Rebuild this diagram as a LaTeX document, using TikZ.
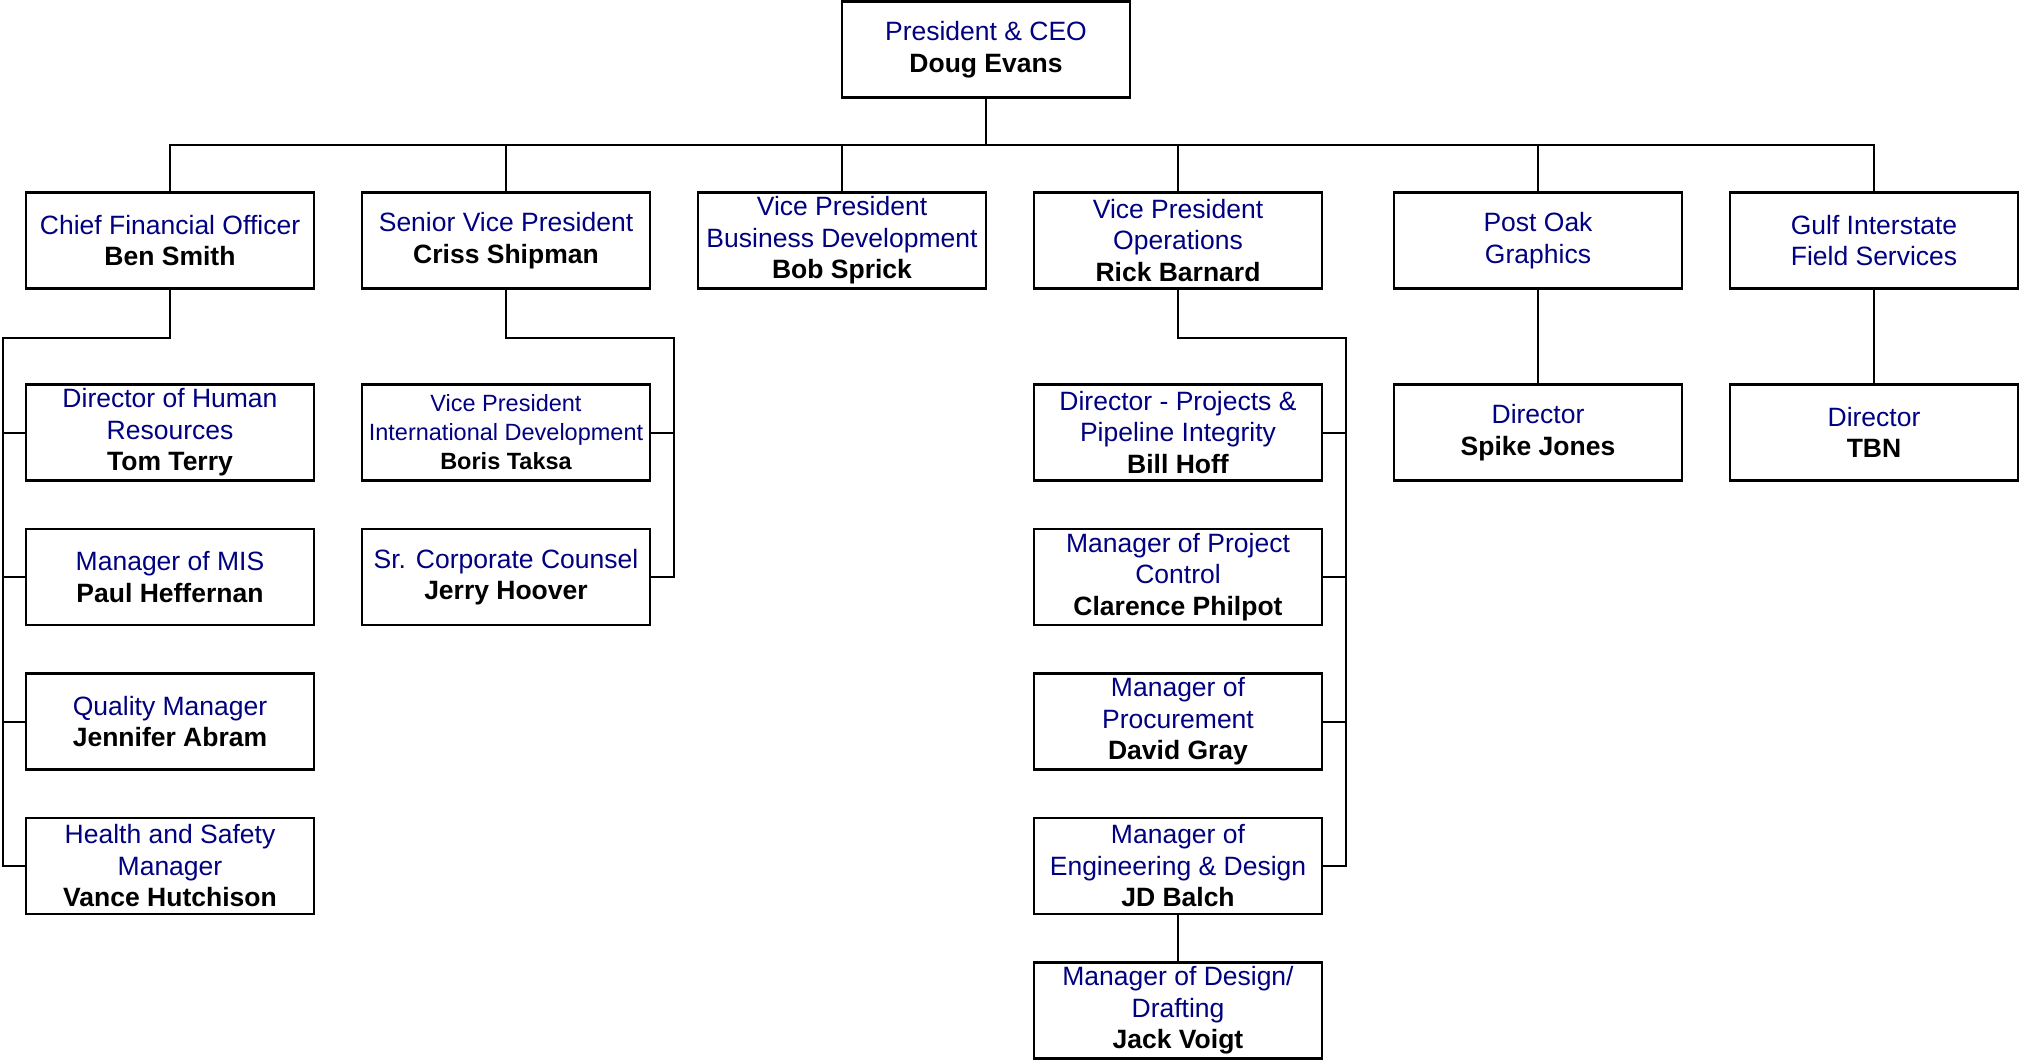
\documentclass[tikz,border=0pt]{standalone}
\usepackage{fontspec}
\setmainfont{Liberation Sans}
\definecolor{ttl}{HTML}{000080}
\newcommand\pname[1]{{\color{black}\bfseries #1}}
\begin{document}
\begin{tikzpicture}[x=1pt,y=-1pt,
  box/.style={draw, line width=2.4pt, minimum width=288pt, minimum height=96pt,
    inner sep=0pt, align=center, text=ttl,
    font=\fontsize{26.5}{31.5}\selectfont},
  smallbox/.style={box, font=\fontsize{23.5}{29}\selectfont},
  conn/.style={draw, line width=2pt, line cap=rect}]
\useasboundingbox (0,0) rectangle (2019,1060);
% top
\node[box] (ceo) at (986,49.5) {President \& CEO\\\pname{Doug Evans}};
% level 2
\node[box] (cfo) at (170,240.5) {Chief Financial Officer\\\pname{Ben Smith}};
\node[box] (svp) at (506,240.5) {Senior Vice President\\\pname{Criss Shipman}};
\node[box] (vpbd) at (842,240.5) {Vice President\\Business Development\\\pname{Bob Sprick}};
\node[box] (vpops) at (1178,240.5) {Vice President\\Operations\\\pname{Rick Barnard}};
\node[box] (postoak) at (1538,240.5) {Post Oak\\Graphics};
\node[box] (gulf) at (1874,240.5) {Gulf Interstate\\Field Services};
% column 1
\node[box] (hr) at (170,432.5) {Director of Human\\Resources\\\pname{Tom Terry}};
\node[box] (mis) at (170,577) {Manager of MIS\\\pname{Paul Heffernan}};
\node[box] (qm) at (170,721.5) {Quality Manager\\\pname{Jennifer Abram}};
\node[box] (hs) at (170,866) {Health and Safety\\Manager\\\pname{Vance Hutchison}};
% column 2
\node[smallbox] (vpid) at (506,432.5) {Vice President\\International Development\\\pname{Boris Taksa}};
\node[box] (scc) at (506,577) {Sr. Corporate Counsel\\\pname{Jerry Hoover}};
% column 4
\node[box] (dpp) at (1178,432.5) {Director - Projects \&\\Pipeline Integrity\\\pname{Bill Hoff}};
\node[box] (mpc) at (1178,577) {Manager of Project\\Control\\\pname{Clarence Philpot}};
\node[box] (mpr) at (1178,721.5) {Manager of\\Procurement\\\pname{David Gray}};
\node[box] (med) at (1178,866) {Manager of\\Engineering \& Design\\\pname{JD Balch}};
\node[box] (mdd) at (1178,1010.5) {Manager of Design/\\Drafting\\\pname{Jack Voigt}};
% columns 5, 6
\node[box] (dsj) at (1538,432.5) {Director\\\pname{Spike Jones}};
\node[box] (dtbn) at (1874,432.5) {Director\\\pname{TBN}};
% connectors: top bus
\coordinate (bus) at (0,145);
\draw[conn] (ceo.south) -- (ceo.south |- bus);
\draw[conn] (cfo.north) -- (cfo.north |- bus) -- (gulf.north |- bus) -- (gulf.north);
\foreach \n in {svp,vpbd,vpops,postoak}
  \draw[conn] (\n.north) -- (\n.north |- bus);
% column 1
\coordinate (k1) at (3,338);
\draw[conn] (cfo.south) |- (k1) -- (k1 |- hs.west) -- (hs.west);
\foreach \n in {hr,mis,qm}
  \draw[conn] (k1 |- \n.west) -- (\n.west);
% column 2
\coordinate (k2) at (674,338);
\draw[conn] (svp.south) |- (k2) -- (k2 |- scc.east) -- (scc.east);
\draw[conn] (k2 |- vpid.east) -- (vpid.east);
% column 4
\coordinate (k4) at (1346,338);
\draw[conn] (vpops.south) |- (k4) -- (k4 |- med.east) -- (med.east);
\foreach \n in {dpp,mpc,mpr}
  \draw[conn] (k4 |- \n.east) -- (\n.east);
\draw[conn] (med.south) -- (mdd.north);
% columns 5, 6
\draw[conn] (postoak.south) -- (dsj.north);
\draw[conn] (gulf.south) -- (dtbn.north);
\end{tikzpicture}
\end{document}
